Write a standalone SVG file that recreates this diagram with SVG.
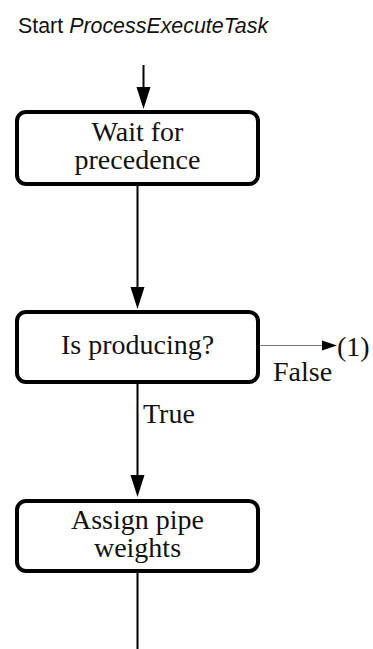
<svg xmlns="http://www.w3.org/2000/svg" width="373" height="649" viewBox="0 0 373 649">
<style>
.box{fill:#fff;stroke:#000;stroke-width:4}
.lbl{font-family:"Liberation Serif","Times New Roman",serif;font-size:28px;fill:#111;text-anchor:middle}
.el{font-family:"Liberation Serif","Times New Roman",serif;font-size:28px;fill:#111}
.ln{stroke:#000;stroke-width:2;fill:none}
.thin{stroke:#777;stroke-width:1.2;fill:none}
</style>
<g id="title">
<text x="18" y="33" font-family="'Liberation Sans',Arial,sans-serif" font-size="21.4" fill="#111">Start <tspan font-style="italic">ProcessExecuteTask</tspan></text>
</g>
<g id="connectors">
<line class="ln" x1="143.5" y1="65" x2="143.5" y2="88"/>
<path d="M136.5,87 L150.5,87 L143.5,109 Z" fill="#000"/>
<line class="ln" x1="137.5" y1="185" x2="137.5" y2="288"/>
<path d="M130.5,287 L144.5,287 L137.5,309 Z" fill="#000"/>
<line class="ln" x1="137.5" y1="384" x2="137.5" y2="476"/>
<path d="M130.5,475 L144.5,475 L137.5,497 Z" fill="#000"/>
<line class="ln" x1="137.5" y1="573" x2="137.5" y2="649"/>
<line class="thin" x1="260" y1="345.5" x2="324" y2="345.5"/>
<path d="M322,340.5 L337,345.5 L322,350.5 Z" fill="#000"/>
<text class="el" x="273" y="381">False</text>
<text class="el" x="337" y="356">(1)</text>
<text class="el" x="143" y="423">True</text>
</g>
<g id="wait">
<rect class="box" x="17" y="112" width="241" height="72" rx="9"/>
<text class="lbl" x="137.5" y="141">Wait for<tspan x="137.5" dy="28">precedence</tspan></text>
</g>
<g id="producing">
<rect class="box" x="17" y="312" width="241" height="70" rx="9"/>
<text class="lbl" x="137.5" y="354" font-size="29">Is producing?</text>
</g>
<g id="assign">
<rect class="box" x="17" y="501" width="241" height="70" rx="9"/>
<text class="lbl" x="137.5" y="529">Assign pipe<tspan x="137.5" dy="28">weights</tspan></text>
</g>
</svg>
